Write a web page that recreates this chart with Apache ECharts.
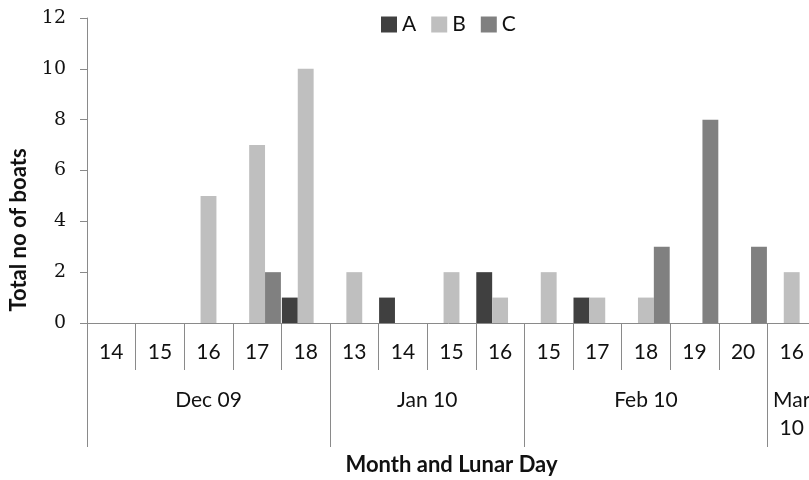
<!DOCTYPE html>
<html>
<head>
<meta charset="utf-8">
<script src="https://cdn.jsdelivr.net/npm/echarts@6/dist/echarts.min.js"></script>
<style>html,body{margin:0;padding:0;background:#fff}#c{width:809px;height:480px}</style>
</head>
<body>
<div id="c"></div>
<script>
const days = ['14','15','16','17','18','13','14','15','16','15','17','18','19','20','16'];
const months = ['Dec 09','Jan 10','Feb 10','Mar\n10'];
const monthSpans = [5, 4, 5, 1];
const seriesNames = ['A', 'B', 'C'];
const valuesA = [0, 0, 0, 0, 1, 0, 1, 0, 2, 0, 1, 0, 0, 0, 0];
const valuesB = [0, 0, 5, 7, 10, 2, 0, 2, 1, 2, 1, 1, 0, 0, 2];
const valuesC = [0, 0, 0, 2, 0, 0, 0, 0, 0, 0, 0, 3, 8, 3, 0];
const yMin = 0, yMax = 12, yStep = 2;

// month axis: half-category points (boundaryGap false)
const nHalf = days.length * 2;
const monthAxisData = new Array(nHalf + 1).fill('');
const boundaries = new Set([0]);
const centers = new Set();
let pos = 0;
months.forEach((m, i) => {
  const c = pos * 2 + monthSpans[i];
  monthAxisData[c] = m;
  centers.add(c);
  pos += monthSpans[i];
  boundaries.add(pos * 2);
});

const axisGray = '#8a8a8a';
const sans = 'Lato';
const chart = echarts.init(document.getElementById('c'), null, {renderer: 'canvas'});
const colors = ['#404040', '#bfbfbf', '#808080'];
const vals = [valuesA, valuesB, valuesC];

chart.setOption({
  animation: false,
  backgroundColor: '#fff',
  grid: {left: 87, top: 18, width: 729, height: 305, containLabel: false, outerBoundsMode: 'none'},
  legend: {
    left: 376, top: 9,
    itemWidth: 16, itemHeight: 16, itemGap: 15,
    icon: 'rect',
    textStyle: {fontFamily: sans, fontSize: 21, color: '#111'},
    data: seriesNames
  },
  xAxis: [
    {
      type: 'category', data: days, position: 'bottom',
      axisLine: {show: true, lineStyle: {color: axisGray, width: 1}},
      axisTick: {show: true, length: 47, lineStyle: {color: axisGray}},
      axisLabel: {fontFamily: sans, fontSize: 21, color: '#111', margin: 19, interval: 0},
      splitLine: {show: false}
    },
    {
      type: 'category', data: monthAxisData, position: 'bottom', boundaryGap: false,
      axisLine: {show: false},
      axisTick: {show: true, length: 124, interval: (i) => boundaries.has(i), lineStyle: {color: axisGray}},
      axisLabel: {fontFamily: sans, fontSize: 21, color: '#111', margin: 63, lineHeight: 28,
        interval: (i) => centers.has(i)},
      name: 'Month and Lunar Day', nameLocation: 'middle', nameGap: 131,
      nameTextStyle: {fontFamily: sans, fontSize: 22, fontWeight: 'bold', color: '#111'},
      splitLine: {show: false}
    }
  ],
  yAxis: {
    type: 'value', min: yMin, max: yMax, interval: yStep,
    axisLine: {show: true, lineStyle: {color: axisGray}},
    axisTick: {show: true, length: 7, lineStyle: {color: axisGray}},
    axisLabel: {fontFamily: 'DejaVu Serif', fontSize: 19, color: '#111', margin: 21},
    splitLine: {show: false}
  },
  graphic: [{
    type: 'text', x: 19, y: 230, rotation: Math.PI / 2,
    style: {text: 'Total no of boats', fontFamily: sans, fontSize: 22, fontWeight: 'bold',
      fill: '#111', align: 'center', verticalAlign: 'middle'}
  }],
  series: seriesNames.map((n, i) => ({
    name: n, type: 'bar', xAxisIndex: 0, data: vals[i],
    barGap: '0%', barCategoryGap: '2%',
    itemStyle: {color: colors[i]}
  }))
});
</script>
</body>
</html>
